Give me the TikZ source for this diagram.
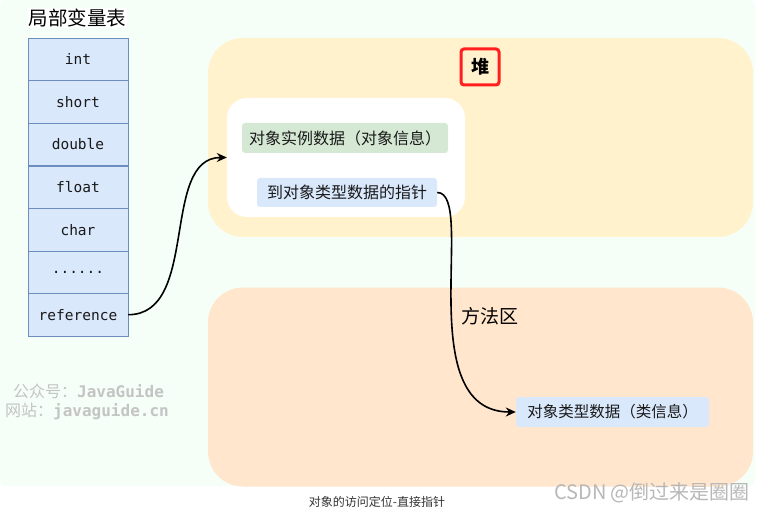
\documentclass[tikz,border=0pt]{standalone}
\usepackage{fontspec}
\setmainfont{Noto Sans CJK SC}
\setmonofont{DejaVu Sans Mono}
\usepackage{xcolor}
\usetikzlibrary{arrows.meta}

\definecolor{mint}{HTML}{F5FFF8}
\definecolor{heapfill}{HTML}{FFF2CC}
\definecolor{methodfill}{HTML}{FFE6CC}
\definecolor{slotfill}{HTML}{DAE8FC}
\definecolor{slotdraw}{HTML}{6C8EBF}
\definecolor{greenfill}{HTML}{D5E8D4}
\definecolor{markred}{HTML}{FF1F1F}
\definecolor{wmgray}{HTML}{C4C4C4}

\begin{document}
\begin{tikzpicture}[x=1pt, y=-1pt,
        slot/.style={draw=slotdraw, fill=slotfill, minimum width=100pt, minimum height=42.57pt, inner sep=0pt, text=black!90, font=\fontsize{14.5}{16}\ttfamily},
        area/.style={fill=#1, rounded corners=35pt, minimum width=545pt, minimum height=199pt, inner sep=0pt},
        tag/.style={fill=#1, rounded corners=3pt, inner sep=0pt, minimum height=30pt, text=black!90, font=\fontsize{16}{18}\selectfont},
        link/.style={-{Stealth[length=10pt, width=9pt]}, line width=1.6pt, black}]
        \useasboundingbox (0,0) rectangle (763,513);
        \fill[white] (0,0) rectangle (763,513);
        \fill[mint, rounded corners=6pt] (0,0) rectangle (755,486);

        % Areas
        \node[area=heapfill] (heap) at (480.5,137.5) {};
        \node[area=methodfill] (method) at (480.5,387) {};
        \node[fill=white, rounded corners=20pt, minimum width=238pt, minimum height=119pt] (obj) at (346,157.5) {};

        % Nodes
        \node[fill=white, inner sep=1pt, font=\fontsize{19.5}{22}\selectfont] (title) at (77.5,18) {局部变量表};
        \node[slot] (int) at (78,59.3) {int};
        \node[slot] (short) at (78,101.9) {short};
        \node[slot] (double) at (78,144.4) {double};
        \node[slot] (float) at (78,187) {float};
        \node[slot] (char) at (78,229.6) {char};
        \node[slot] (dots) at (78,272.1) {......};
        \node[slot] (ref) at (78,314.7) {reference};

        \node[draw=markred, line width=3pt, rounded corners=3pt, minimum width=38pt, minimum height=36pt, inner sep=0pt, font=\fontsize{18}{20}\bfseries] (heaplabel) at (480,67) {堆};
        \node[tag=greenfill, minimum width=206pt] (data) at (345,138) {对象实例数据（对象信息）};
        \node[tag=slotfill, minimum width=180pt, minimum height=29pt] (ptr) at (347,192.5) {到对象类型数据的指针};
        \node[font=\fontsize{19}{22}\selectfont] (methodlabel) at (490,316) {方法区};
        \node[tag=slotfill, minimum width=193pt, font=\fontsize{15.5}{18}\selectfont] (cls) at (612.5,412) {对象类型数据（类信息）};

        % Edges
        \draw[link] (ref.east) .. controls (200,314.7) and (160,157.5) .. (obj.west);
        \draw[link] (ptr.east) .. controls (477,192.5) and (410,412) .. (cls.west);

        % Labels
        \node[anchor=west, text=wmgray, font=\fontsize{16}{18}\selectfont, inner sep=0pt] (wm1) at (13,391) {公众号：\texttt{\bfseries JavaGuide}};
        \node[anchor=west, text=wmgray, font=\fontsize{16}{18}\selectfont, inner sep=0pt] (wm2) at (5,411) {网站：\texttt{\bfseries javaguide.cn}};
        \node[text=black!80, font=\fontsize{12}{14}\selectfont] (caption) at (377,502) {对象的访问定位-直接指针};
        \node[text=black!28, font=\fontsize{20}{22}\selectfont] (csdn) at (652,493) {CSDN @倒过来是圈圈};
    \end{tikzpicture}
\end{document}
